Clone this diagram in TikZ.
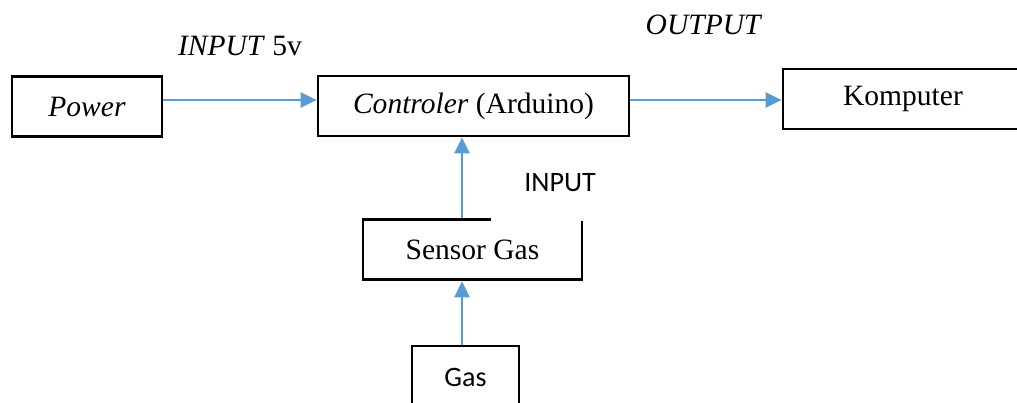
\documentclass[tikz,border=0pt]{standalone}
\usepackage{fontspec}
\setmainfont{Liberation Serif}
\newfontfamily\calibri{Carlito}
\usetikzlibrary{positioning,arrows.meta}
\definecolor{flowblue}{HTML}{5B9BD5}

\begin{document}
\begin{tikzpicture}[
  every node/.style={font=\fontsize{21}{25}\selectfont},
  block/.style={
    draw=black, line width=2pt, fill=white,
    minimum height=1.52cm, align=center, inner sep=2pt,
  },
  flow/.style={-{Triangle[length=0.4cm,width=0.38cm]}, line width=1.4pt, flowblue},
  lbl/.style={anchor=base, inner sep=0pt},
]
  \clip (0,0) rectangle (25.425,-10.075);

  % Top row
  \node[block, minimum width=3.75cm]  (power) at (2.175,-2.6625)  {\textit{Power}};
  \node[block, minimum width=7.775cm, minimum height=1.5cm] (ctrl) at (11.8375,-2.65) {\textit{Controler} (Arduino)};
  \node[block, minimum width=6cm, minimum height=1.5cm]     (komp) at (22.575,-2.475) {Komputer};

  % Middle and bottom
  \node[block, minimum width=5.475cm] (sensor) at (11.8125,-6.2375) {Sensor Gas};
  \node[block, minimum width=2.675cm, minimum height=1.55cm, font=\calibri\fontsize{20}{24}\selectfont] (gas) at (11.6375,-9.425) {Gas};

  % Labels
  \node[lbl] (inpower) at (6.0,-1.375)  {\textit{INPUT} 5v};
  \node[lbl] (outkomp) at (17.6,-0.875) {\textit{OUTPUT}};
  \node[anchor=south, fill=white, minimum width=3.45cm, inner xsep=0pt, inner ysep=0.1cm,
        text depth=0.625cm, font=\calibri\fontsize{20}{24}\selectfont] (insensor) at (14.0,-5.525) {INPUT};

  \draw[flow] ([yshift=0.1625cm]power.east) -- ([yshift=0.1625cm]power.east -| ctrl.west);
  \draw[flow] ([yshift=0.15cm]ctrl.east)    -- ([yshift=0.15cm]ctrl.east -| komp.west);
  \draw[flow] ([xshift=-0.2625cm]sensor.north) -- ([xshift=-0.2625cm]sensor.north |- ctrl.south);
  \draw[flow] ([xshift=-0.0875cm]gas.north)    -- ([xshift=-0.0875cm]gas.north |- sensor.south);
\end{tikzpicture}
\end{document}
